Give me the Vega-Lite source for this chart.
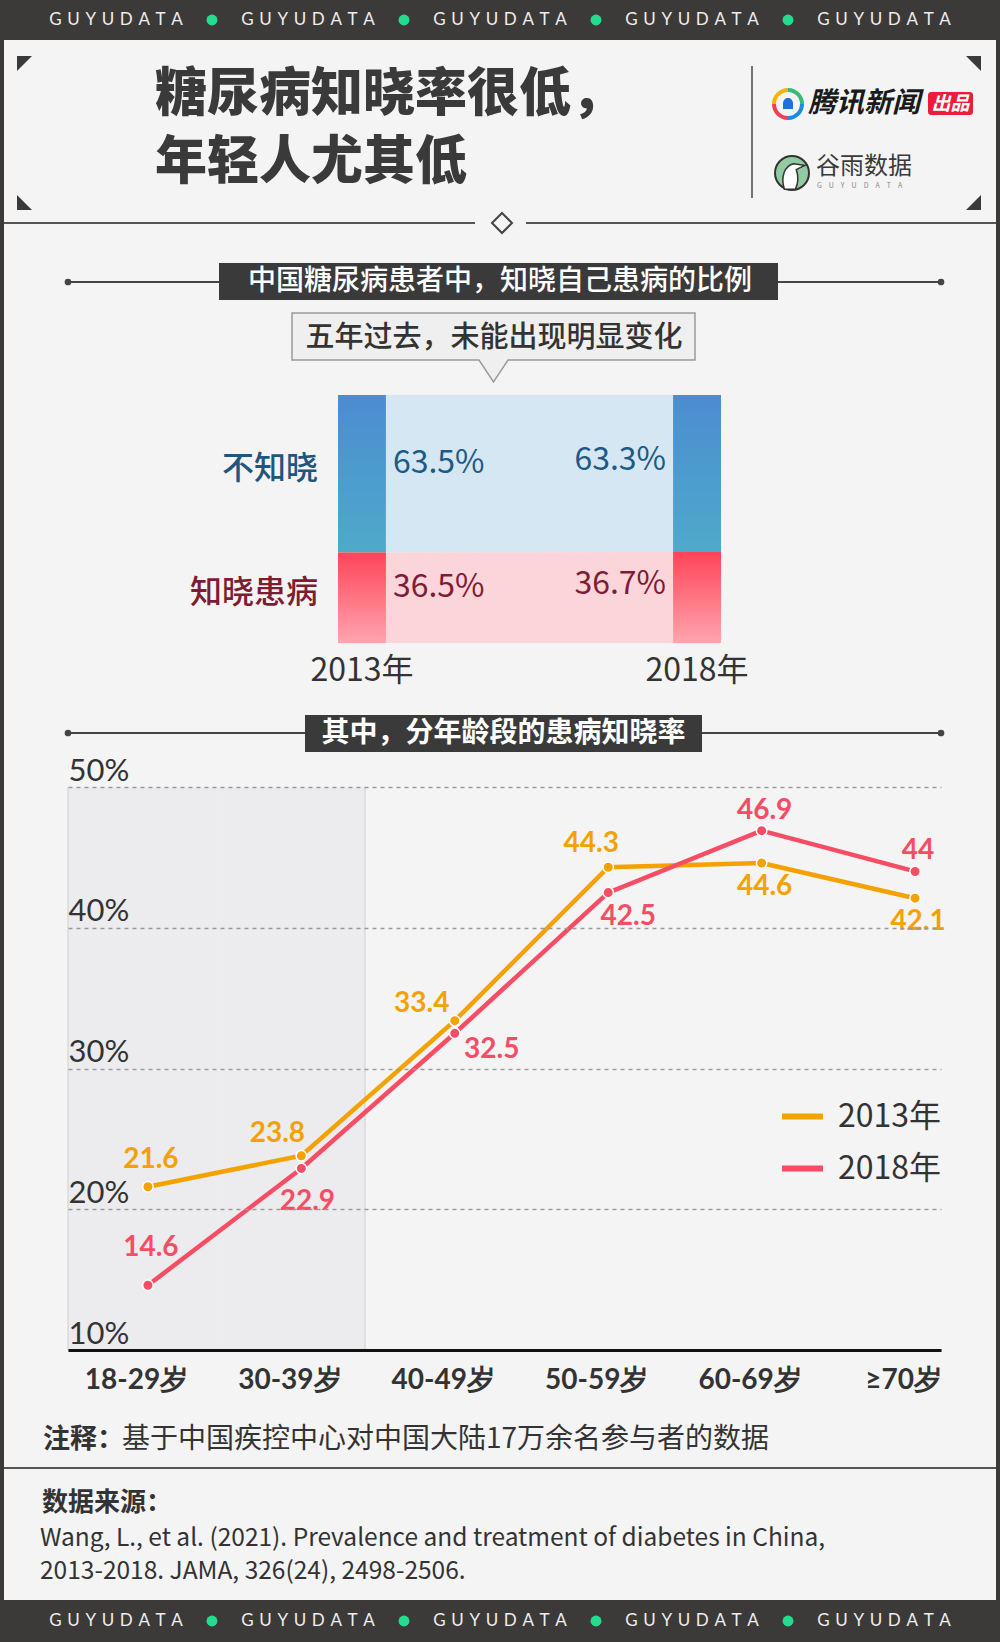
{
"$schema":"https://vega.github.io/schema/vega-lite/v6.json",
"background":"#3c3939",
"padding":0,
"spacing":0,
"bounds":"flush",
"center":true,
"config":{"view":{"stroke":null},"font":"Noto Sans CJK SC"},
"resolve":{"scale":{"x":"independent","y":"independent","color":"independent"}},
"vconcat":[
{
 "width":1000,"height":40,"view":{"fill":"#3c3939","stroke":null},
 "data":{"values":[{"n":1,"w":"G\u2004U\u2004Y\u2004U\u2004D\u2004A\u2004T\u2004A"},{"n":2,"w":"G\u2004U\u2004Y\u2004U\u2004D\u2004A\u2004T\u2004A"},{"n":3,"w":"G\u2004U\u2004Y\u2004U\u2004D\u2004A\u2004T\u2004A"},{"n":4,"w":"G\u2004U\u2004Y\u2004U\u2004D\u2004A\u2004T\u2004A"},{"n":5,"w":"G\u2004U\u2004Y\u2004U\u2004D\u2004A\u2004T\u2004A"}]},
 "layer":[
  {"mark":{"type":"text","font":"Lato","fontSize":17,"color":"#eeeeee"},
   "encoding":{"x":{"field":"n","type":"ordinal","scale":{"type":"band","paddingInner":0,"paddingOuter":0.104},"axis":null},"text":{"field":"w"}}},
  {"transform":[{"filter":"datum.n < 5"}],
   "mark":{"type":"point","filled":true,"color":"#25dc8d","size":120,"opacity":1},
   "encoding":{"x":{"field":"n","type":"ordinal","bandPosition":1,"scale":{"type":"band","paddingInner":0,"paddingOuter":0.104},"axis":null}}}
 ]
},
{
 "width":992,"height":200,"view":{"fill":"#f4f4f4","stroke":null},
 "data":{"values":[{"k":1}]},
 "layer":[
  {"data":{"values":[{"t":"糖尿病知晓率很低，"}]},"mark":{"type":"text","fontSize":52,"fontWeight":900,"color":"#3a3a3a","align":"left"},
   "encoding":{"x":{"datum":151,"type":"quantitative","scale":{"domain":[0,992],"nice":false,"zero":false},"axis":null},"y":{"datum":55,"type":"quantitative","scale":{"domain":[0,200],"range":[0,200],"nice":false,"zero":false},"axis":null},"text":{"field":"t"}}},
  {"data":{"values":[{"t":"年轻人尤其低"}]},"mark":{"type":"text","fontSize":52,"fontWeight":900,"color":"#3a3a3a","align":"left"},
   "encoding":{"x":{"datum":151,"type":"quantitative"},"y":{"datum":123,"type":"quantitative"},"text":{"field":"t"}}},
  {"mark":{"type":"point","shape":"M-1,-1L1,-1L-1,1Z","size":225,"filled":true,"color":"#3a3a3a","opacity":1},
   "encoding":{"x":{"datum":20.5,"type":"quantitative"},"y":{"datum":23.5,"type":"quantitative"}}},
  {"mark":{"type":"point","shape":"M-1,-1L1,-1L1,1Z","size":225,"filled":true,"color":"#3a3a3a","opacity":1},
   "encoding":{"x":{"datum":969.5,"type":"quantitative"},"y":{"datum":23.5,"type":"quantitative"}}},
  {"mark":{"type":"point","shape":"M-1,-1L-1,1L1,1Z","size":225,"filled":true,"color":"#3a3a3a","opacity":1},
   "encoding":{"x":{"datum":20.5,"type":"quantitative"},"y":{"datum":162.5,"type":"quantitative"}}},
  {"mark":{"type":"point","shape":"M1,-1L1,1L-1,1Z","size":225,"filled":true,"color":"#3a3a3a","opacity":1},
   "encoding":{"x":{"datum":969.5,"type":"quantitative"},"y":{"datum":162.5,"type":"quantitative"}}},
  {"mark":{"type":"rule","color":"#4a4a4a","strokeWidth":1.5},
   "encoding":{"x":{"datum":748,"type":"quantitative"},"y":{"datum":26,"type":"quantitative"},"y2":{"datum":158}}},
  {"mark":{"type":"point","shape":"M-1,0 A1,1 0 0 1 0,-1","size":784,"filled":false,"color":"#f7b500","strokeWidth":4,"opacity":1},
   "encoding":{"x":{"datum":784,"type":"quantitative"},"y":{"datum":64,"type":"quantitative"}}},
  {"mark":{"type":"point","shape":"M0,-1 A1,1 0 0 1 1,0","size":784,"filled":false,"color":"#3cb878","strokeWidth":4,"opacity":1},
   "encoding":{"x":{"datum":784,"type":"quantitative"},"y":{"datum":64,"type":"quantitative"}}},
  {"mark":{"type":"point","shape":"M1,0 A1,1 0 0 1 0,1","size":784,"filled":false,"color":"#1b8de0","strokeWidth":4,"opacity":1},
   "encoding":{"x":{"datum":784,"type":"quantitative"},"y":{"datum":64,"type":"quantitative"}}},
  {"mark":{"type":"point","shape":"M0,1 A1,1 0 0 1 -1,0","size":784,"filled":false,"color":"#ef4056","strokeWidth":4,"opacity":1},
   "encoding":{"x":{"datum":784,"type":"quantitative"},"y":{"datum":64,"type":"quantitative"}}},
  {"mark":{"type":"point","shape":"M-0.5,0.5 L-0.5,-0.05 C-0.5,-0.8 0.5,-0.8 0.5,-0.05 L0.5,0.5 Z","size":400,"filled":true,"color":"#1f6fde","opacity":1},
   "encoding":{"x":{"datum":784,"type":"quantitative"},"y":{"datum":64,"type":"quantitative"}}},
  {"data":{"values":[{"t":"腾讯新闻"}]},"mark":{"type":"text","fontSize":28,"fontWeight":"bold","fontStyle":"italic","color":"#1a1a1a","align":"left"},
   "encoding":{"x":{"datum":804,"type":"quantitative"},"y":{"datum":64,"type":"quantitative"},"text":{"field":"t"}}},
  {"mark":{"type":"rect","color":"#ec1c3b","cornerRadius":3},
   "encoding":{"x":{"datum":924,"type":"quantitative"},"x2":{"datum":969},"y":{"datum":52,"type":"quantitative"},"y2":{"datum":75}}},
  {"data":{"values":[{"t":"出品"}]},"mark":{"type":"text","fontSize":19,"fontWeight":"bold","fontStyle":"italic","color":"#ffffff"},
   "encoding":{"x":{"datum":946.5,"type":"quantitative"},"y":{"datum":63.5,"type":"quantitative"},"text":{"field":"t"}}},
  {"mark":{"type":"point","shape":"circle","size":1156,"filled":true,"fill":"#92cba2","stroke":"#333333","strokeWidth":2,"opacity":1},
   "encoding":{"x":{"datum":788,"type":"quantitative"},"y":{"datum":133,"type":"quantitative"}}},
  {"mark":{"type":"point","shape":"M-0.45,0.95 C-0.7,0.2 -0.4,-0.45 0.1,-0.55 L0.75,-0.45 L0.25,-0.2 C0.4,0.25 0.35,0.65 0.2,0.95 Z","size":1156,"filled":true,"fill":"#ffffff","stroke":"#333333","strokeWidth":1.5,"opacity":1},
   "encoding":{"x":{"datum":788,"type":"quantitative"},"y":{"datum":133,"type":"quantitative"}}},
  {"data":{"values":[{"t":"谷雨数据"}]},"mark":{"type":"text","fontSize":24,"color":"#3a3a3a","align":"left"},
   "encoding":{"x":{"datum":812,"type":"quantitative"},"y":{"datum":127,"type":"quantitative"},"text":{"field":"t"}}},
  {"data":{"values":[{"t":"G\u2003U\u2003Y\u2003U\u2003D\u2003A\u2003T\u2003A"}]},"mark":{"type":"text","fontSize":7,"color":"#888888","align":"left"},
   "encoding":{"x":{"datum":813,"type":"quantitative"},"y":{"datum":146,"type":"quantitative"},"text":{"field":"t"}}},
  {"mark":{"type":"rule","color":"#555555","strokeWidth":2},
   "encoding":{"x":{"datum":0,"type":"quantitative"},"x2":{"datum":471},"y":{"datum":183,"type":"quantitative"}}},
  {"mark":{"type":"rule","color":"#555555","strokeWidth":2},
   "encoding":{"x":{"datum":522,"type":"quantitative"},"x2":{"datum":992},"y":{"datum":183,"type":"quantitative"}}},
  {"mark":{"type":"point","shape":"M0,-1L1,0L0,1L-1,0Z","size":400,"filled":true,"fill":"#f4f4f4","stroke":"#444444","strokeWidth":2,"opacity":1},
   "encoding":{"x":{"datum":498,"type":"quantitative"},"y":{"datum":183,"type":"quantitative"}}}
 ]
},
{
 "width":992,"height":460,"view":{"fill":"#f4f4f4","stroke":null},
 "resolve":{"scale":{"x":"independent","y":"independent"}},
 "layer":[
  {
   "data":{"values":[{"k":1}]},
   "layer":[
    {"mark":{"type":"rule","color":"#444444","strokeWidth":2},
     "encoding":{"x":{"datum":64,"type":"quantitative","scale":{"domain":[0,992],"nice":false,"zero":false},"axis":null},"x2":{"datum":937},"y":{"datum":42,"type":"quantitative","scale":{"domain":[0,460],"range":[0,460],"nice":false,"zero":false},"axis":null}}},
    {"mark":{"type":"point","shape":"circle","size":45,"filled":true,"color":"#444444","opacity":1},
     "encoding":{"x":{"datum":64,"type":"quantitative"},"y":{"datum":42,"type":"quantitative"}}},
    {"mark":{"type":"point","shape":"circle","size":45,"filled":true,"color":"#444444","opacity":1},
     "encoding":{"x":{"datum":937,"type":"quantitative"},"y":{"datum":42,"type":"quantitative"}}},
    {"mark":{"type":"rect","color":"#3a3a3a"},
     "encoding":{"x":{"datum":215,"type":"quantitative"},"x2":{"datum":774},"y":{"datum":23,"type":"quantitative"},"y2":{"datum":60}}},
    {"data":{"values":[{"t":"中国糖尿病患者中，知晓自己患病的比例"}]},"mark":{"type":"text","fontSize":28,"fontWeight":500,"color":"#ffffff"},
     "encoding":{"x":{"datum":496,"type":"quantitative"},"y":{"datum":41.5,"type":"quantitative"},"text":{"field":"t"}}},
    {"mark":{"type":"point","shape":"M-1,-0.171 L1,-0.171 L1,0.062 L0.072,0.062 L0,0.171 L-0.072,0.062 L-1,0.062 Z","size":162409,"filled":true,"fill":"#efefef","stroke":"#9a9a9a","strokeWidth":1.5,"opacity":1},
     "encoding":{"x":{"datum":489.5,"type":"quantitative"},"y":{"datum":107.5,"type":"quantitative"}}},
    {"data":{"values":[{"t":"五年过去，未能出现明显变化"}]},"mark":{"type":"text","fontSize":29,"fontWeight":500,"color":"#333333"},
     "encoding":{"x":{"datum":490,"type":"quantitative"},"y":{"datum":98,"type":"quantitative"},"text":{"field":"t"}}}
   ]
  },
  {
   "data":{"values":[
    {"year":"2013年","cat":"不知晓","p":0.635},
    {"year":"2013年","cat":"知晓患病","p":0.365},
    {"year":"2018年","cat":"不知晓","p":0.633},
    {"year":"2018年","cat":"知晓患病","p":0.367}
   ]},
   "layer":[
    {"mark":{"type":"area","opacity":0.9},
     "encoding":{
      "x":{"field":"year","type":"nominal","scale":{"type":"band","range":[334,717],"paddingInner":0.857,"paddingOuter":0},"axis":null},
      "y":{"field":"p","type":"quantitative","stack":"zero","scale":{"domain":[0,1],"range":[403,155],"nice":false,"zero":true},"axis":null},
      "detail":{"field":"cat"},
      "order":{"field":"cat","sort":"descending"},
      "color":{"field":"cat","type":"nominal","scale":{"domain":["不知晓","知晓患病"],"range":["#d3e5f4","#fcd1d7"]},"legend":null}
     }},
    {"mark":{"type":"bar"},
     "encoding":{
      "x":{"field":"year","type":"nominal","axis":null},
      "y":{"field":"p","type":"quantitative","stack":"zero","axis":null},
      "detail":{"field":"cat"},
      "order":{"field":"cat","sort":"descending"},
      "color":{"condition":{"test":"datum.cat === '不知晓'","value":{"gradient":"linear","x1":0,"y1":0,"x2":0,"y2":1,"stops":[{"offset":0,"color":"#4b8cd0"},{"offset":1,"color":"#4eaacb"}]}},
               "value":{"gradient":"linear","x1":0,"y1":0,"x2":0,"y2":1,"stops":[{"offset":0,"color":"#ff4458"},{"offset":1,"color":"#ffa5ae"}]}}
     }},
    {"transform":[{"filter":{"field":"year","equal":"2013年"}}],
     "mark":{"type":"text","fontSize":32,"align":"left","dx":7,"dy":-11},
     "encoding":{
      "x":{"field":"year","type":"nominal","bandPosition":1,"axis":null},
      "y":{"field":"p","type":"quantitative","stack":"zero","bandPosition":0.5,"axis":null},
      "detail":{"field":"cat"},
      "order":{"field":"cat","sort":"descending"},
      "text":{"field":"p","type":"quantitative","format":".1%"},
      "color":{"condition":{"test":"datum.cat === '不知晓'","value":"#1d5a86"},"value":"#7d1d35"}
     }},
    {"transform":[{"filter":{"field":"year","equal":"2018年"}}],
     "mark":{"type":"text","fontSize":32,"align":"right","dx":-7,"dy":-13},
     "encoding":{
      "x":{"field":"year","type":"nominal","bandPosition":0,"axis":null},
      "y":{"field":"p","type":"quantitative","stack":"zero","bandPosition":0.5,"axis":null},
      "detail":{"field":"cat"},
      "order":{"field":"cat","sort":"descending"},
      "text":{"field":"p","type":"quantitative","format":".1%"},
      "color":{"condition":{"test":"datum.cat === '不知晓'","value":"#1d5a86"},"value":"#7d1d35"}
     }},
    {"transform":[{"filter":{"field":"year","equal":"2013年"}}],
     "mark":{"type":"text","fontSize":32,"fontWeight":500,"align":"right","dx":-20,"dy":-5},
     "encoding":{
      "x":{"field":"year","type":"nominal","bandPosition":0,"axis":null},
      "y":{"field":"p","type":"quantitative","stack":"zero","bandPosition":0.5,"axis":null},
      "detail":{"field":"cat"},
      "order":{"field":"cat","sort":"descending"},
      "text":{"field":"cat"},
      "color":{"condition":{"test":"datum.cat === '不知晓'","value":"#1f567e"},"value":"#7b1d33"}
     }},
    {"transform":[{"filter":{"field":"cat","equal":"知晓患病"}}],
     "mark":{"type":"text","fontSize":32,"color":"#333333","dy":28},
     "encoding":{
      "x":{"field":"year","type":"nominal","axis":null},
      "y":{"datum":0,"type":"quantitative","axis":null},
      "text":{"field":"year"}
     }}
   ]
  }
 ]
},
{
 "width":992,"height":700,"view":{"fill":"#f4f4f4","stroke":null},
 "resolve":{"scale":{"x":"independent","y":"independent"}},
 "layer":[
  {
   "data":{"values":[{"k":1}]},
   "layer":[
    {"mark":{"type":"rule","color":"#444444","strokeWidth":2},
     "encoding":{"x":{"datum":64,"type":"quantitative","scale":{"domain":[0,992],"nice":false,"zero":false},"axis":null},"x2":{"datum":937},"y":{"datum":33,"type":"quantitative","scale":{"domain":[0,700],"range":[0,700],"nice":false,"zero":false},"axis":null}}},
    {"mark":{"type":"point","shape":"circle","size":45,"filled":true,"color":"#444444","opacity":1},
     "encoding":{"x":{"datum":64,"type":"quantitative"},"y":{"datum":33,"type":"quantitative"}}},
    {"mark":{"type":"point","shape":"circle","size":45,"filled":true,"color":"#444444","opacity":1},
     "encoding":{"x":{"datum":937,"type":"quantitative"},"y":{"datum":33,"type":"quantitative"}}},
    {"mark":{"type":"rect","color":"#3a3a3a"},
     "encoding":{"x":{"datum":301,"type":"quantitative"},"x2":{"datum":698},"y":{"datum":15,"type":"quantitative"},"y2":{"datum":52}}},
    {"data":{"values":[{"t":"其中，分年龄段的患病知晓率"}]},"mark":{"type":"text","fontSize":28,"fontWeight":"bold","color":"#ffffff"},
     "encoding":{"x":{"datum":499.5,"type":"quantitative"},"y":{"datum":33.5,"type":"quantitative"},"text":{"field":"t"}}}
   ]
  },
  {
   "resolve":{"scale":{"x":"independent","y":"independent"}},
   "layer":[
    {
     "data":{"values":[{"age":"18-29岁"},{"age":"30-39岁"}]},
     "layer":[
      {"mark":{"type":"rect","fill":"#e6e5eb","opacity":0.55},
       "encoding":{
        "x":{"field":"age","type":"nominal","scale":{"type":"band","domain":["18-29岁","30-39岁","40-49岁","50-59岁","60-69岁","≥70岁"],"range":[64,955],"paddingInner":0,"paddingOuter":0},"axis":null},
        "y":{"datum":50,"type":"quantitative","scale":{"domain":[10,50],"range":[650,87],"nice":false,"zero":false},"axis":null},
        "y2":{"datum":10}
       }},
      {"transform":[{"filter":{"field":"age","equal":"18-29岁"}}],
       "mark":{"type":"rule","color":"#cfcfcf","strokeWidth":1},
       "encoding":{
        "x":{"field":"age","type":"nominal","bandPosition":0,"axis":null},
        "y":{"datum":50,"type":"quantitative","axis":null},
        "y2":{"datum":10}
       }},
      {"transform":[{"filter":{"field":"age","equal":"30-39岁"}}],
       "mark":{"type":"rule","color":"#cfcfcf","strokeWidth":1},
       "encoding":{
        "x":{"field":"age","type":"nominal","bandPosition":1,"axis":null},
        "y":{"datum":50,"type":"quantitative","axis":null},
        "y2":{"datum":10}
       }}
     ]
    },
    {"data":{"values":[
      {"age":"18-29岁","year":"2013年","v":21.6},
      {"age":"30-39岁","year":"2013年","v":23.8},
      {"age":"40-49岁","year":"2013年","v":33.4},
      {"age":"50-59岁","year":"2013年","v":44.3},
      {"age":"60-69岁","year":"2013年","v":44.6},
      {"age":"≥70岁","year":"2013年","v":42.1},
      {"age":"18-29岁","year":"2018年","v":14.6},
      {"age":"30-39岁","year":"2018年","v":22.9},
      {"age":"40-49岁","year":"2018年","v":32.5},
      {"age":"50-59岁","year":"2018年","v":42.5},
      {"age":"60-69岁","year":"2018年","v":46.9},
      {"age":"≥70岁","year":"2018年","v":44}
     ]},
     "encoding":{
      "x":{"field":"age","type":"ordinal","scale":{"type":"point","domain":["18-29岁","30-39岁","40-49岁","50-59岁","60-69岁","≥70岁"],"range":[64,937],"padding":0.345,"align":0.755},
           "axis":{"orient":"bottom","offset":-50,"title":null,"domain":true,"domainColor":"#111111","domainWidth":3,"ticks":false,"tickSize":0,"grid":false,"labelAngle":0,"labelFont":"Lato","labelFontSize":28,"labelFontWeight":"bold","labelColor":"#333333","labelPadding":16,"labelOffset":-12,"zindex":1}},
      "y":{"field":"v","type":"quantitative","scale":{"domain":[10,50],"range":[650,87],"nice":false,"zero":false},
           "axis":{"orient":"left","offset":-64,"title":null,"values":[10,20,30,40,50],"domain":false,"ticks":false,"tickSize":0,"grid":true,"gridColor":"#9a9a9a","gridDash":[4,4],"gridWidth":1.3,"labelAlign":"left","labelBaseline":"alphabetic","labelPadding":0,"labelOffset":-7,"labelFont":"Lato","labelFontSize":31,"labelColor":"#333333","labelExpr":"datum.value + '%'","zindex":1}}
     },
     "layer":[
      {"mark":{"type":"line","strokeWidth":4.5},
       "encoding":{"color":{"field":"year","type":"nominal","scale":{"domain":["2013年","2018年"],"range":["#f5a100","#f64c64"]},
         "legend":{"orient":"none","legendX":775,"legendY":393,"title":null,"symbolType":"stroke","symbolStrokeWidth":6,"symbolSize":1681,"labelFont":"Noto Sans CJK SC","labelFontSize":32,"labelColor":"#333333","rowPadding":12,"labelOffset":12,"padding":0,"direction":"vertical"}}}},
      {"transform":[{"filter":{"field":"year","equal":"2013年"}}],
       "mark":{"type":"point","filled":true,"size":110,"color":"#f5a100","stroke":"#ffffff","strokeWidth":1.5,"opacity":1}},
      {"transform":[{"filter":{"field":"year","equal":"2018年"}}],
       "mark":{"type":"point","filled":true,"size":110,"color":"#f64c64","stroke":"#ffffff","strokeWidth":1.5,"opacity":1}},
      {"transform":[{"filter":{"and":[{"field":"year","equal":"2013年"},{"field":"age","oneOf":["18-29岁"]}]}}],
       "mark":{"type":"text","font":"Lato","fontSize":28,"fontWeight":"bold","color":"#f5a100","dx":3,"dy":-27},
       "encoding":{"text":{"field":"v","type":"quantitative","format":".3~r"}}},
      {"transform":[{"filter":{"and":[{"field":"year","equal":"2013年"},{"field":"age","oneOf":["30-39岁"]}]}}],
       "mark":{"type":"text","font":"Lato","fontSize":28,"fontWeight":"bold","color":"#f5a100","dx":-24,"dy":-22},
       "encoding":{"text":{"field":"v","type":"quantitative","format":".3~r"}}},
      {"transform":[{"filter":{"and":[{"field":"year","equal":"2013年"},{"field":"age","oneOf":["40-49岁"]}]}}],
       "mark":{"type":"text","font":"Lato","fontSize":28,"fontWeight":"bold","color":"#f5a100","dx":-33,"dy":-17},
       "encoding":{"text":{"field":"v","type":"quantitative","format":".3~r"}}},
      {"transform":[{"filter":{"and":[{"field":"year","equal":"2013年"},{"field":"age","oneOf":["50-59岁"]}]}}],
       "mark":{"type":"text","font":"Lato","fontSize":28,"fontWeight":"bold","color":"#f5a100","dx":-17,"dy":-23},
       "encoding":{"text":{"field":"v","type":"quantitative","format":".3~r"}}},
      {"transform":[{"filter":{"and":[{"field":"year","equal":"2013年"},{"field":"age","oneOf":["60-69岁","≥70岁"]}]}}],
       "mark":{"type":"text","font":"Lato","fontSize":28,"fontWeight":"bold","color":"#f5a100","dx":3,"dy":24},
       "encoding":{"text":{"field":"v","type":"quantitative","format":".3~r"}}},
      {"transform":[{"filter":{"and":[{"field":"year","equal":"2018年"},{"field":"age","oneOf":["18-29岁"]}]}}],
       "mark":{"type":"text","font":"Lato","fontSize":28,"fontWeight":"bold","color":"#f64c64","dx":3,"dy":-37},
       "encoding":{"text":{"field":"v","type":"quantitative","format":".3~r"}}},
      {"transform":[{"filter":{"and":[{"field":"year","equal":"2018年"},{"field":"age","oneOf":["30-39岁"]}]}}],
       "mark":{"type":"text","font":"Lato","fontSize":28,"fontWeight":"bold","color":"#f64c64","dx":6,"dy":34},
       "encoding":{"text":{"field":"v","type":"quantitative","format":".3~r"}}},
      {"transform":[{"filter":{"and":[{"field":"year","equal":"2018年"},{"field":"age","oneOf":["40-49岁"]}]}}],
       "mark":{"type":"text","font":"Lato","fontSize":28,"fontWeight":"bold","color":"#f64c64","dx":37,"dy":17},
       "encoding":{"text":{"field":"v","type":"quantitative","format":".3~r"}}},
      {"transform":[{"filter":{"and":[{"field":"year","equal":"2018年"},{"field":"age","oneOf":["50-59岁"]}]}}],
       "mark":{"type":"text","font":"Lato","fontSize":28,"fontWeight":"bold","color":"#f64c64","dx":20,"dy":24},
       "encoding":{"text":{"field":"v","type":"quantitative","format":".3~r"}}},
      {"transform":[{"filter":{"and":[{"field":"year","equal":"2018年"},{"field":"age","oneOf":["60-69岁","≥70岁"]}]}}],
       "mark":{"type":"text","font":"Lato","fontSize":28,"fontWeight":"bold","color":"#f64c64","dx":3,"dy":-20},
       "encoding":{"text":{"field":"v","type":"quantitative","format":".3~r"}}}
     ]
    }
   ]
  }
 ]
},
{
 "width":992,"height":200,"view":{"fill":"#f4f4f4","stroke":null},
 "data":{"values":[{"k":1}]},
 "layer":[
  {"data":{"values":[{"t":"注释："}]},"mark":{"type":"text","fontSize":27,"fontWeight":"bold","color":"#333333","align":"left"},
   "encoding":{"x":{"datum":39,"type":"quantitative","scale":{"domain":[0,992],"nice":false,"zero":false},"axis":null},"y":{"datum":40,"type":"quantitative","scale":{"domain":[0,200],"range":[0,200],"nice":false,"zero":false},"axis":null},"text":{"field":"t"}}},
  {"data":{"values":[{"t":"基于中国疾控中心对中国大陆17万余名参与者的数据"}]},"mark":{"type":"text","fontSize":28,"color":"#333333","align":"left"},
   "encoding":{"x":{"datum":118,"type":"quantitative"},"y":{"datum":40,"type":"quantitative"},"text":{"field":"t"}}},
  {"mark":{"type":"rule","color":"#555555","strokeWidth":2},
   "encoding":{"x":{"datum":0,"type":"quantitative"},"x2":{"datum":992},"y":{"datum":68,"type":"quantitative"}}},
  {"data":{"values":[{"t":"数据来源："}]},"mark":{"type":"text","fontSize":26,"fontWeight":"bold","color":"#333333","align":"left"},
   "encoding":{"x":{"datum":38,"type":"quantitative"},"y":{"datum":103,"type":"quantitative"},"text":{"field":"t"}}},
  {"data":{"values":[{"t":"Wang, L., et al. (2021). Prevalence and treatment of diabetes in China,"}]},"mark":{"type":"text","fontSize":24.5,"color":"#333333","align":"left"},
   "encoding":{"x":{"datum":36,"type":"quantitative"},"y":{"datum":139,"type":"quantitative"},"text":{"field":"t"}}},
  {"data":{"values":[{"t":"2013-2018. JAMA, 326(24), 2498-2506."}]},"mark":{"type":"text","fontSize":24.5,"color":"#333333","align":"left"},
   "encoding":{"x":{"datum":36,"type":"quantitative"},"y":{"datum":172,"type":"quantitative"},"text":{"field":"t"}}}
 ]
},
{
 "width":1000,"height":42,"view":{"fill":"#3c3939","stroke":null},
 "data":{"values":[{"n":1,"w":"G\u2004U\u2004Y\u2004U\u2004D\u2004A\u2004T\u2004A"},{"n":2,"w":"G\u2004U\u2004Y\u2004U\u2004D\u2004A\u2004T\u2004A"},{"n":3,"w":"G\u2004U\u2004Y\u2004U\u2004D\u2004A\u2004T\u2004A"},{"n":4,"w":"G\u2004U\u2004Y\u2004U\u2004D\u2004A\u2004T\u2004A"},{"n":5,"w":"G\u2004U\u2004Y\u2004U\u2004D\u2004A\u2004T\u2004A"}]},
 "layer":[
  {"mark":{"type":"text","font":"Lato","fontSize":17,"color":"#eeeeee"},
   "encoding":{"x":{"field":"n","type":"ordinal","scale":{"type":"band","paddingInner":0,"paddingOuter":0.104},"axis":null},"text":{"field":"w"}}},
  {"transform":[{"filter":"datum.n < 5"}],
   "mark":{"type":"point","filled":true,"color":"#25dc8d","size":120,"opacity":1},
   "encoding":{"x":{"field":"n","type":"ordinal","bandPosition":1,"scale":{"type":"band","paddingInner":0,"paddingOuter":0.104},"axis":null}}}
 ]
}
]
}
